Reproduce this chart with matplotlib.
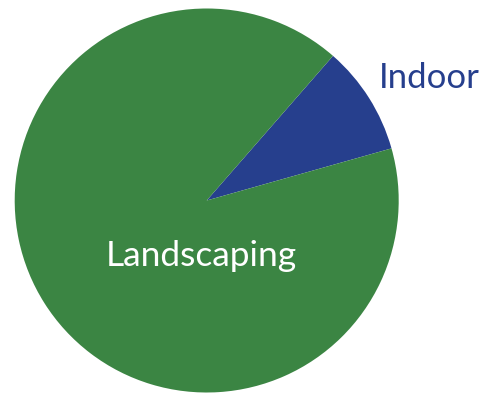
import matplotlib
matplotlib.use("Agg")
import matplotlib.pyplot as plt

labels = ["Indoor", "Landscaping"]
values = [9.2, 90.8]
colors = ["#263F8D", "#3B8543"]
label_colors = ["#263F8D", "#FFFFFF"]

W, H = 484, 394
fig = plt.figure(figsize=(W / 100, H / 100), dpi=100)
ax = fig.add_axes([0, 0, 1, 1])

cx, cy, r = 206.7, H - 200.5, 192
ax.pie(values, colors=colors, startangle=15.75, counterclock=True,
       center=(cx, cy), radius=r, frame=True,
       wedgeprops=dict(linewidth=0))

ax.text(429.5, H - 78, labels[0], color=label_colors[0], fontsize=25,
        family="Lato", ha="center", va="center")
ax.text(201, H - 256, labels[1], color=label_colors[1], fontsize=25.5,
        family="Lato", ha="center", va="center")

ax.set_xlim(0, W)
ax.set_ylim(0, H)
ax.set_aspect("equal")
ax.axis("off")
fig.savefig("out.png", dpi=100)
